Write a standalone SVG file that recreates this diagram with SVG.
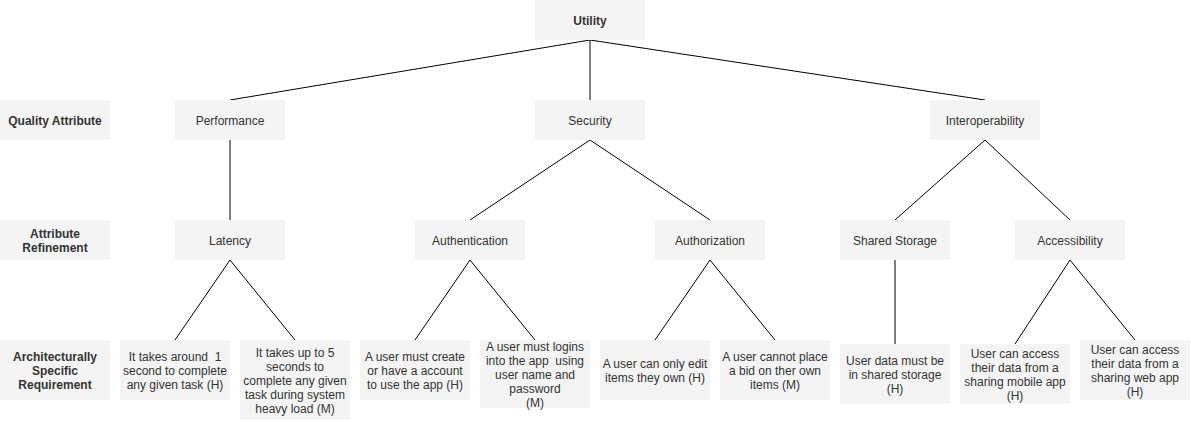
<svg xmlns="http://www.w3.org/2000/svg" width="1191" height="422" viewBox="0 0 1191 422">
<style>
.box{fill:#f4f4f4;stroke:none}
text{font-family:"Liberation Sans",Arial,sans-serif;font-size:12px;fill:#333;text-anchor:middle;white-space:pre}
.b{font-weight:bold}
.edge{stroke:#000;stroke-width:1;fill:none}
</style>
<rect width="1191" height="422" fill="#fff"/>
<g id="connectors">
<path class="edge" d="M590 40L230 100M590 40L590 100M590 40L985 100"/>
<path class="edge" d="M230 140L230 220M590 140L470 220M590 140L710 220M985 140L895 220M985 140L1070 220"/>
<path class="edge" d="M230 260L175 340M230 260L295 340M470 260L415 340M470 260L535 340M710 260L655 340M710 260L775 340M895 260L895 344M1070 260L1015 344M1070 260L1135 340"/>
</g>
<g id="utility"><rect class="box" x="535" y="0" width="110" height="40"/><text class="b" x="590" y="25">Utility</text></g>
<g id="lbl-quality"><rect class="box" x="0" y="100" width="110" height="40"/><text class="b" x="55" y="125">Quality Attribute</text></g>
<g id="lbl-refinement"><rect class="box" x="0" y="220" width="110" height="40"/><text class="b" x="55" y="238">Attribute</text><text class="b" x="55" y="252">Refinement</text></g>
<g id="lbl-requirement"><rect class="box" x="0" y="340" width="110" height="60"/><text class="b" x="55" y="361">Architecturally</text><text class="b" x="55" y="375">Specific</text><text class="b" x="55" y="389">Requirement</text></g>
<g id="performance"><rect class="box" x="175" y="100" width="110" height="40"/><text x="230" y="125">Performance</text></g>
<g id="security"><rect class="box" x="535" y="100" width="110" height="40"/><text x="590" y="125">Security</text></g>
<g id="interoperability"><rect class="box" x="930" y="100" width="110" height="40"/><text x="985" y="125">Interoperability</text></g>
<g id="latency"><rect class="box" x="175" y="220" width="110" height="40"/><text x="230" y="245">Latency</text></g>
<g id="authentication"><rect class="box" x="415" y="220" width="110" height="40"/><text x="470" y="245">Authentication</text></g>
<g id="authorization"><rect class="box" x="655" y="220" width="110" height="40"/><text x="710" y="245">Authorization</text></g>
<g id="shared-storage"><rect class="box" x="840" y="220" width="110" height="40"/><text x="895" y="245">Shared Storage</text></g>
<g id="accessibility"><rect class="box" x="1015" y="220" width="110" height="40"/><text x="1070" y="245">Accessibility</text></g>
<g id="req-latency-1"><rect class="box" x="120" y="340" width="110" height="60"/><text x="175" y="361">It takes around  1</text><text x="175" y="375">second to complete</text><text x="175" y="389">any given task (H)</text></g>
<g id="req-latency-2"><rect class="box" x="240" y="340" width="110" height="80"/><text x="295" y="357">It takes up to 5</text><text x="295" y="371">seconds to</text><text x="295" y="385">complete any given</text><text x="295" y="399">task during system</text><text x="295" y="413">heavy load (M)</text></g>
<g id="req-auth-1"><rect class="box" x="360" y="340" width="110" height="60"/><text x="415" y="361">A user must create</text><text x="415" y="375">or have a account</text><text x="415" y="389">to use the app (H)</text></g>
<g id="req-auth-2"><rect class="box" x="480" y="340" width="110" height="68"/><text x="535" y="351">A user must logins</text><text x="535" y="365">into the app  using</text><text x="535" y="379">user name and</text><text x="535" y="393">password</text><text x="535" y="407">(M)</text></g>
<g id="req-authz-1"><rect class="box" x="600" y="340" width="110" height="60"/><text x="655" y="368">A user can only edit</text><text x="655" y="382">items they own (H)</text></g>
<g id="req-authz-2"><rect class="box" x="720" y="340" width="110" height="60"/><text x="775" y="361">A user cannot place</text><text x="775" y="375">a bid on ther own</text><text x="775" y="389">items (M)</text></g>
<g id="req-storage"><rect class="box" x="840" y="344" width="110" height="60"/><text x="895" y="365">User data must be</text><text x="895" y="379">in shared storage</text><text x="895" y="393">(H)</text></g>
<g id="req-access-1"><rect class="box" x="960" y="344" width="110" height="60"/><text x="1015" y="358">User can access</text><text x="1015" y="372">their data from a</text><text x="1015" y="386">sharing mobile app</text><text x="1015" y="400">(H)</text></g>
<g id="req-access-2"><rect class="box" x="1080" y="340" width="110" height="60"/><text x="1135" y="354">User can access</text><text x="1135" y="368">their data from a</text><text x="1135" y="382">sharing web app</text><text x="1135" y="396">(H)</text></g>
</svg>
